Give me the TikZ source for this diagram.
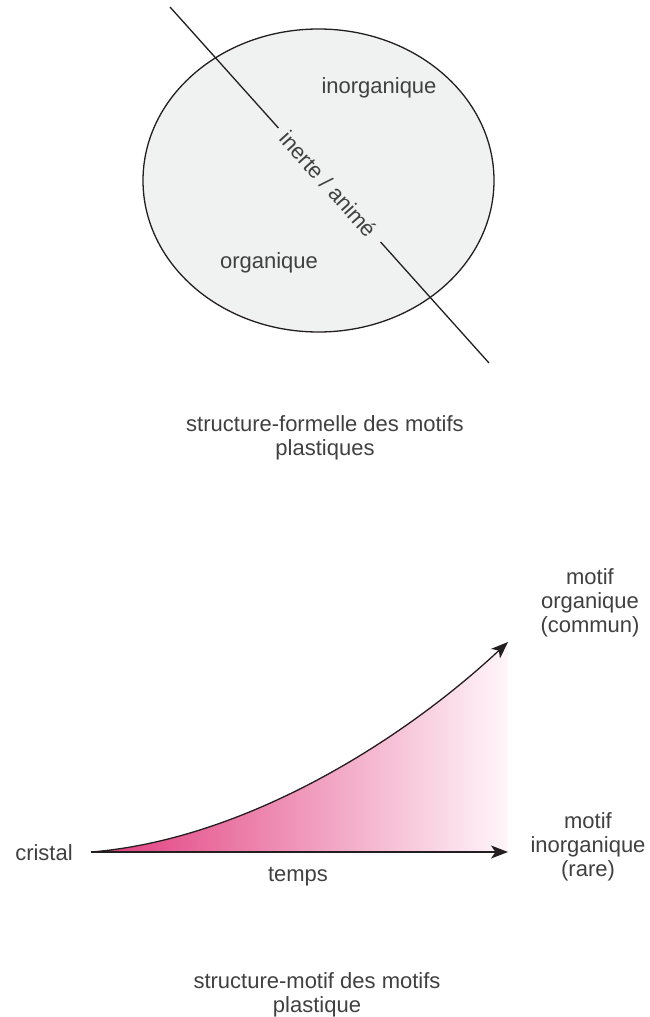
\documentclass[tikz,border=0pt]{standalone}
\usepackage{fontspec}
\setmainfont{Liberation Sans}
\usetikzlibrary{arrows.meta,shapes.geometric,calc}
\definecolor{linecol}{HTML}{231F20}
\definecolor{txtcol}{HTML}{404041}
\definecolor{ellfill}{HTML}{F0F1F1}
\definecolor{pinkA}{HTML}{E0387A}
\definecolor{pinkB}{HTML}{FFF6FA}
\tikzset{
  lbl/.style={text=txtcol, font=\fontsize{22}{24}\selectfont, inner sep=0pt, align=center},
  ln/.style={draw=linecol, line width=1.3pt},
  arr/.style={ln, -{Stealth[length=17pt,width=13pt,inset=4.5pt]}}
}
\begin{document}
\begin{tikzpicture}[x=1pt,y=-1pt]
\useasboundingbox (0,0) rectangle (650,1017);
% --- upper diagram ---
\node[ellipse, draw=linecol, line width=1.3pt, fill=ellfill, minimum width=351pt, minimum height=303pt, inner sep=0pt] (ell) at (318.5,180.5) {};
\coordinate (d1) at (170,7);
\coordinate (d2) at (489,363);
\node[lbl, rotate=-48.1] (axis) at (328.5,184) {inerte / animé};
\draw[ln] (d1) -- ($(d1)!0.34!(d2)$) coordinate (g1);
\draw[ln] ($(d1)!0.66!(d2)$) coordinate (g2) -- (d2);
\node[lbl] (inorg) at (379,88) {inorganique};
\node[lbl] (org) at (269,263) {organique};
\node[lbl] (cap1) at (325,438) {structure-formelle des motifs\\plastiques};
% --- lower diagram ---
\coordinate (start) at (91,852);
\coordinate (tipA) at (508,642);
\coordinate (tipB) at (508,852);
\shade[left color=pinkA, right color=pinkB] (start) .. controls (241,840) and (398,744.7) .. (tipA) -- (tipB) -- cycle;
\draw[arr] (start) .. controls (241,840) and (398,744.7) .. (tipA);
\draw[arr] (start) -- (tipB);
\node[lbl] (cristal) at (44,853) {cristal};
\node[lbl] (temps) at (298,877) {temps};
\node[lbl] (morg) at (590,603) {motif\\organique\\(commun)};
\node[lbl] (minorg) at (588,847) {motif\\inorganique\\(rare)};
\node[lbl] (cap2) at (317,995) {structure-motif des motifs\\plastique};
\end{tikzpicture}
\end{document}
